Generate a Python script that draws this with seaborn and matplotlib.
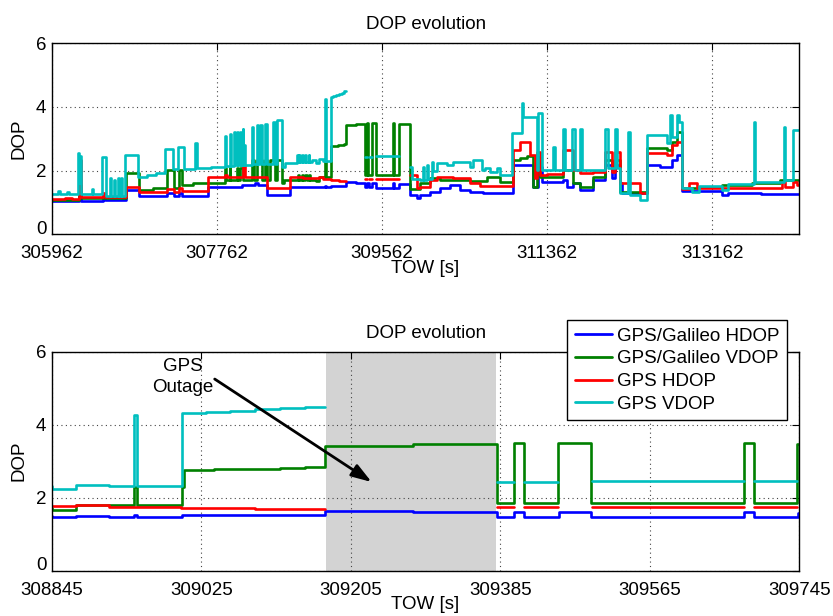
import numpy as np
import pandas as pd
import matplotlib
matplotlib.use("Agg")
import matplotlib.pyplot as plt
import matplotlib.transforms as mtransforms
from matplotlib.lines import Line2D
import seaborn as sns

# ---------------------------------------------------------------------------
# DOP time series (GPS time of week, seconds). Each series is a step signal:
# level[i] holds from start[i] until start[i+1]; NaN marks missing solutions.
# ---------------------------------------------------------------------------
t_end = 314111

series_names = ["GPS/Galileo HDOP", "GPS/Galileo VDOP", "GPS HDOP", "GPS VDOP"]
series_colors = ["#0000FF", "#008000", "#FF0000", "#00BFBF"]

gal_hdop_start = [
    305962, 306100, 306180, 306255, 306275, 306520, 306540, 306764, 306909, 307219,
    307292, 307347, 307383, 307665, 308030, 308175, 308210, 308303, 308558, 308845,
    308874, 308914, 308944, 308947, 309002, 309174, 309280, 309381, 309402, 309414,
    309456, 309494, 309679, 309691, 309743, 309867, 309940, 309977, 310086, 310195,
    310304, 310413, 310522, 310667, 310995, 311213, 311267, 311304, 311540, 311576,
    311649, 311722, 311867, 311995, 312067, 312104, 312158, 312177, 312449, 312595,
    312722, 312776, 312838, 313267, 313340, 313700]
gal_hdop = [
    1.03, 1.06, 1.03, 1.50, 1.06, 1.22, 1.08, 1.40, 1.19, 1.30,
    1.20, 1.30, 1.21, 1.50, 1.55, 1.62, 1.55, 1.23, 1.50, 1.48,
    1.50, 1.47, 1.52, 1.47, 1.52, 1.63, 1.60, 1.48, 1.61, 1.48,
    1.61, 1.46, 1.61, 1.46, 1.58, 1.24, 1.13, 1.24, 1.34, 1.44,
    1.55, 1.39, 1.34, 1.29, 2.18, 1.50, 2.10, 1.65, 1.70, 1.50,
    1.60, 1.39, 1.71, 2.18, 1.76, 2.18, 1.60, 1.30, 2.18, 2.10,
    2.33, 2.49, 1.37, 1.24, 1.29, 1.27]

gal_vdop_start = [
    305962, 306255, 306275, 306764, 306909, 307060, 307219, 307292, 307347, 307383,
    307500, 307665, 307849, 307856, 307900, 307907, 307980, 307988, 308013, 308049,
    308140, 308160, 308195, 308250, 308286, 308304, 308340, 308395, 308413, 308467,
    308490, 308649, 308660, 308690, 308700, 308725, 308740, 308760, 308775, 308845,
    308874, 308944, 308947, 309002, 309004, 309040, 309080, 309120, 309150, 309174,
    309280, 309381, 309401, 309413, 309455, 309494, 309678, 309690, 309742, 309867,
    309977, 310086, 310195, 310522, 310704, 310849, 310995, 311067, 311140, 311213,
    311249, 311285, 311540, 311649, 311722, 311867, 311995, 312067, 312104, 312158,
    312449, 312667, 312722, 312776, 312838, 313013, 313267, 313600, 313900]
gal_vdop = [
    1.08, 1.55, 1.13, 1.92, 1.39, 1.44, 2.02, 1.44, 2.02, 1.55,
    1.60, 1.62, 2.07, 1.70, 2.07, 1.70, 2.07, 1.70, 2.07, 1.70,
    2.33, 1.70, 2.33, 1.72, 2.33, 1.72, 2.33, 1.72, 2.33, 1.60,
    1.71, 1.86, 1.71, 1.86, 1.71, 1.86, 1.71, 1.86, 1.71, 1.66,
    1.80, 2.30, 1.80, 2.30, 2.76, 2.78, 2.80, 2.82, 2.84, 3.42,
    3.47, 1.86, 3.49, 1.86, 3.49, 1.86, 3.50, 1.86, 3.48, 1.42,
    1.60, 1.76, 1.71, 1.66, 1.81, 1.65, 2.33, 2.39, 2.45, 1.50,
    2.44, 1.81, 2.02, 1.60, 1.50, 1.81, 2.33, 2.12, 2.33, 1.34,
    2.70, 2.65, 2.90, 3.22, 1.44, 1.50, 1.55, 1.62, 1.70]

gps_hdop_start = [
    305962, 306100, 306180, 306255, 306275, 306520, 306540, 306764, 306909, 307219,
    307292, 307347, 307383, 307665, 307850, 307870, 308050, 308062, 308303, 308558,
    308700, 308845, 308874, 308914, 309000, 309090, 309174, 309381, 309401, 309414,
    309455, 309495, 309678, 309691, 309742, 309867, 309940, 309977, 310086, 310158,
    310340, 310522, 310631, 310995, 311067, 311176, 311231, 311249, 311285, 311358,
    311540, 311649, 311722, 311867, 311995, 312067, 312104, 312158, 312377, 312449,
    312667, 312722, 312776, 312838, 312904, 312995, 313922, 313958, 314049, 314085]
gps_hdop = [
    1.10, 1.14, 1.10, 2.33, 1.16, 1.30, 1.18, 1.48, 1.32, 1.41,
    1.34, 1.44, 1.37, 1.79, 1.86, 1.80, 2.15, 1.81, 1.44, 1.81,
    1.78, 1.77, 1.80, 1.74, 1.71, 1.68, np.nan, 1.75, np.nan, 1.75,
    np.nan, 1.75, np.nan, 1.75, np.nan, 1.86, 1.44, 1.50, 1.70, 1.81,
    1.76, 1.60, 1.52, 2.65, 2.91, 2.49, 1.76, 2.60, 1.86, 1.90,
    2.65, 2.02, 1.92, 1.97, 2.60, 1.97, 2.60, 1.60, 1.29, 2.54,
    2.49, 2.80, 2.91, 1.41, 1.60, 1.45, 1.65, 1.50, 1.65, 1.55]

gps_vdop_start = [
    305962, 306030, 306050, 306130, 306150, 306245, 306255, 306265, 306280, 306400,
    306410, 306504, 306550, 306600, 306608, 306640, 306648, 306680, 306688, 306715,
    306723, 306758, 306904, 307000, 307100, 307194, 307285, 307340, 307405, 307522,
    307540, 307700, 307849, 307858, 307905, 307914, 307945, 307954, 307980, 307990,
    308013, 308022, 308040, 308049, 308055, 308062, 308140, 308158, 308195, 308213,
    308231, 308249, 308286, 308304, 308376, 308395, 308413, 308467, 308504, 308631,
    308640, 308660, 308668, 308690, 308698, 308725, 308733, 308760, 308768, 308795,
    308845, 308874, 308914, 308944, 308947, 309002, 309030, 309060, 309090, 309120,
    309150, 309174, 309381, 309401, 309414, 309455, 309495, 309600, 309678, 309691,
    309742, 309867, 309890, 309977, 310010, 310020, 310049, 310068, 310104, 310122,
    310158, 310267, 310340, 310522, 310558, 310649, 310686, 310740, 310813, 310849,
    310976, 311085, 311104, 311249, 311267, 311304, 311431, 311449, 311540, 311558,
    311631, 311667, 311722, 311740, 311995, 312031, 312104, 312122, 312158, 312249,
    312267, 312377, 312449, 312667, 312704, 312722, 312776, 312795, 312838, 312940,
    313013, 313267, 313340, 313613, 313631, 313940, 313958, 314049]
gps_vdop = [
    1.28, 1.35, 1.25, 1.33, 1.28, 2.54, 1.60, 2.45, 1.25, 1.42,
    1.25, 2.44, 1.20, 1.76, 1.20, 1.70, 1.20, 1.76, 1.20, 1.76,
    1.20, 2.50, 1.81, 1.86, 1.92, 2.67, 2.05, 2.75, 2.05, 2.86,
    2.07, 2.12, 3.10, 2.15, 3.15, 2.15, 3.20, 2.18, 3.22, 2.18,
    3.22, 2.18, 3.30, 2.18, 2.80, 2.18, 3.38, 2.20, 3.43, 2.20,
    3.43, 2.20, 3.48, 2.22, 3.54, 2.22, 3.59, 2.12, 2.23, 2.49,
    2.28, 2.49, 2.28, 2.49, 2.28, 2.49, 2.28, 2.49, 2.28, 2.33,
    2.25, 2.36, 2.31, 4.26, 2.31, 4.31, 4.34, 4.38, 4.42, 4.45,
    4.49, np.nan, 2.42, np.nan, 2.42, np.nan, 2.45, 2.47, np.nan, 2.47,
    np.nan, 2.12, 1.75, 1.71, 2.10, 1.71, 2.18, 1.75, 2.28, 2.00,
    2.23, 2.18, 2.28, 2.12, 2.33, 2.02, 2.07, 1.97, 2.07, 1.86,
    3.17, 4.11, 3.70, 2.02, 3.80, 2.02, 2.75, 2.02, 3.30, 2.02,
    3.30, 2.02, 3.30, 2.02, 3.30, 2.07, 3.30, 2.07, 1.29, 3.22,
    1.24, 1.08, 3.12, 2.86, 3.75, 3.07, 3.75, 3.54, 1.44, 1.34,
    1.53, 1.39, 1.57, 3.54, 1.65, 3.38, 1.71, 3.28]

overview_ticks = [305962, 307762, 309562, 311362, 313162]
zoom_ticks = [308845, 309025, 309205, 309385, 309565, 309745]
outage_window = (309175, 309380)


def step_frame(name, starts, levels):
    """Turn a step signal into drawable vertices, one unit per unbroken run."""
    if len(starts) != len(levels):
        raise ValueError(f"{name}: {len(starts)} starts vs {len(levels)} levels")
    ends = list(starts[1:]) + [t_end]
    rows, run = [], 0
    for t0, t1, v in zip(starts, ends, levels):
        if np.isnan(v):
            run += 1
            continue
        rows.append((t0, v, f"{name}#{run}"))
        rows.append((t1, v, f"{name}#{run}"))
    df = pd.DataFrame(rows, columns=["tow", "dop", "run"])
    df["series"] = name
    return df


dop = pd.concat([
    step_frame(series_names[0], gal_hdop_start, gal_hdop),
    step_frame(series_names[1], gal_vdop_start, gal_vdop),
    step_frame(series_names[2], gps_hdop_start, gps_hdop),
    step_frame(series_names[3], gps_vdop_start, gps_vdop),
], ignore_index=True)

sns.set_theme(style="white")
plt.rcParams["font.family"] = ["Liberation Sans", "DejaVu Sans"]
plt.rcParams["text.color"] = "black"
plt.rcParams["axes.labelcolor"] = "black"
FS = 13.5

fig = plt.figure(figsize=(8.33, 6.16), dpi=100)
ax_top = fig.add_axes([0.0624, 0.6197, 0.897, 0.310])
ax_bot = fig.add_axes([0.0624, 0.0735, 0.897, 0.3556])

palette = dict(zip(series_names, series_colors))

for ax, xlim, ticks in ((ax_top, (305962, t_end), overview_ticks),
                        (ax_bot, (zoom_ticks[0], zoom_ticks[-1]), zoom_ticks)):
    sns.lineplot(data=dop, x="tow", y="dop", hue="series", hue_order=series_names,
                 palette=palette, units="run", estimator=None, sort=False,
                 linewidth=1.9, legend=False, ax=ax)
    ax.set_xlim(*xlim)
    ax.set_ylim(0, 6)
    ax.set_xticks(ticks, labels=[str(t) for t in ticks])
    ax.set_yticks([0, 2, 4, 6], labels=["0", "2", "4", "6"])
    ax.set_axisbelow(True)
    ax.grid(True, linestyle=(0, (1, 3)), color="#444444", linewidth=0.8)
    ax.tick_params(direction="in", top=True, right=True, length=5, width=0.8,
                   labelsize=FS, colors="black")
    ax.tick_params(axis="x", pad=8)
    ax.tick_params(axis="y", pad=4)
    for spine in ax.spines.values():
        spine.set_color("black")
        spine.set_linewidth(1.0)
    ax.set_title("DOP evolution", fontsize=FS, pad=10)
    ax.set_xlabel("TOW [s]", fontsize=FS, labelpad=-2)
    ax.set_ylabel("DOP", fontsize=FS, labelpad=6)
    # lift the "0" label a little so it clears the first time label below it
    lift = mtransforms.ScaledTranslation(0, 5 / 72, fig.dpi_scale_trans)
    zero_label = ax.get_yticklabels()[0]
    zero_label.set_transform(zero_label.get_transform() + lift)

# shaded outage interval in the detail view
ax_bot.axvspan(*outage_window, color="#D3D3D3", lw=0, zorder=0.3)

ax_bot.text(309003, 5.3, "GPS\nOutage", ha="center", va="center",
            fontsize=FS, linespacing=1.3, color="black")
ax_bot.annotate("", xy=(309230, 2.43), xytext=(309041, 5.25),
                arrowprops=dict(arrowstyle="-|>,head_length=0.9,head_width=0.3",
                                color="black", lw=2, shrinkA=0, shrinkB=0),
                fontsize=FS)

handles = [Line2D([], [], color=c, lw=2) for c in series_colors]
leg = ax_bot.legend(handles, series_names, loc="upper right",
                    bbox_to_anchor=(787 / 833, 1 - 320 / 616),
                    bbox_transform=fig.transFigure, borderaxespad=0,
                    fontsize=FS, frameon=True, fancybox=False, framealpha=1,
                    edgecolor="black", handlelength=2.0, handletextpad=0.25,
                    labelspacing=0.3, borderpad=0.4)
leg.get_frame().set_linewidth(1.0)

fig.savefig("out.png", dpi=100)
